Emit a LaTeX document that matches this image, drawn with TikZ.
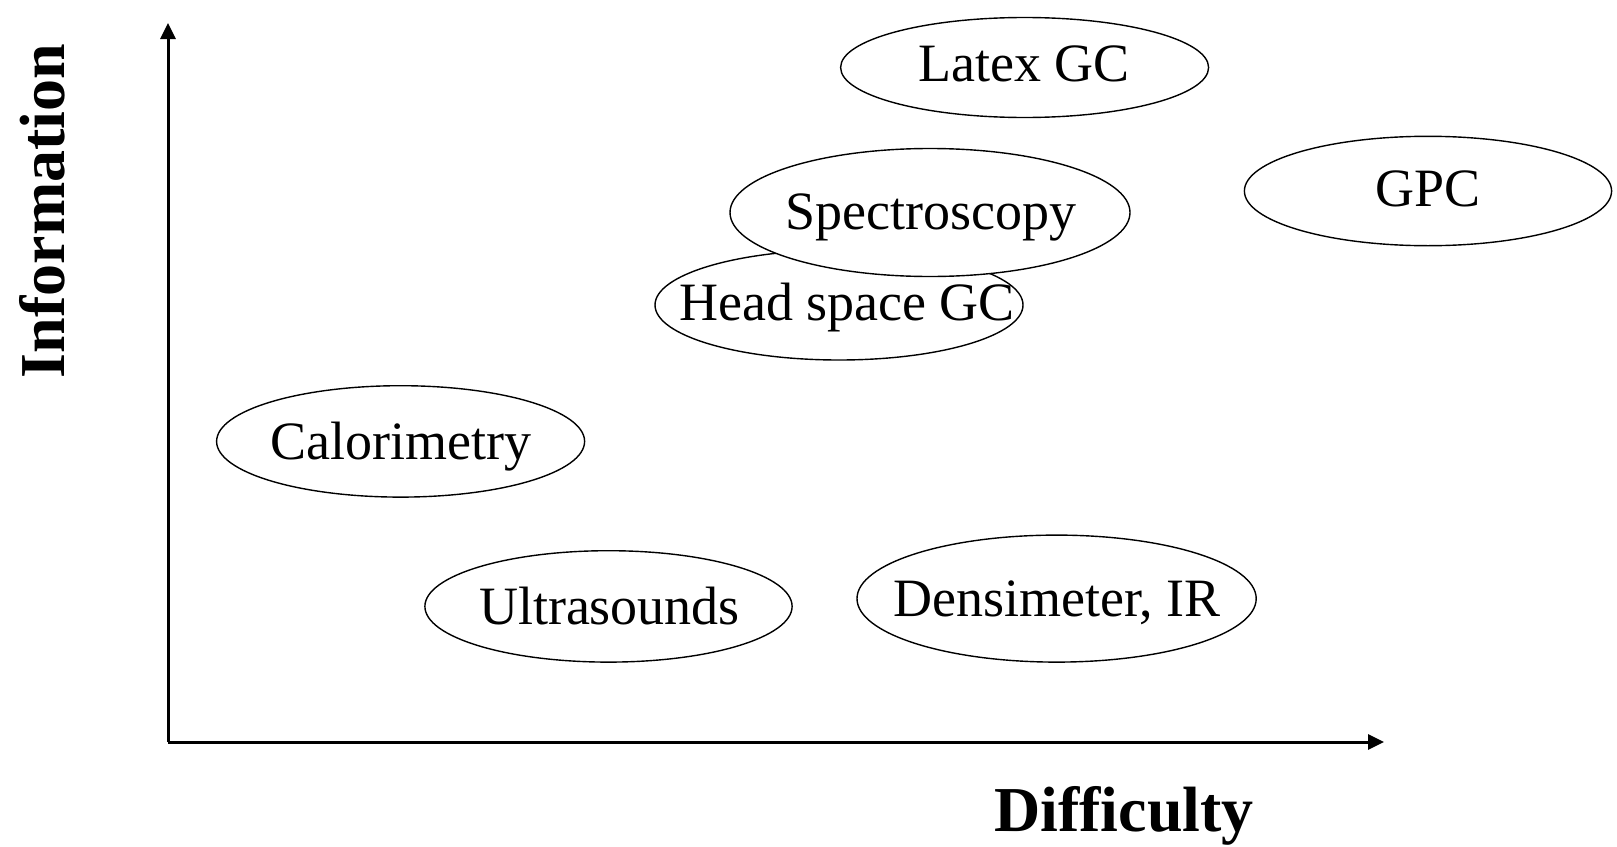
\documentclass[tikz,border=0pt]{standalone}
\usepackage{fontspec}
\setmainfont{Liberation Serif}
\usetikzlibrary{shapes.geometric,arrows.meta}
\begin{document}
\begin{tikzpicture}[x=0.5pt,y=-0.5pt,
  oval/.style={ellipse,draw,line width=0.7pt,fill=white,inner sep=0pt},
  lab/.style={font=\fontsize{27}{30}\selectfont,inner sep=0pt,anchor=base},
  axislab/.style={font=\fontsize{32}{36}\selectfont\bfseries,inner sep=0pt,anchor=base},
  axis/.style={line width=1.5pt,-{Triangle[length=8pt,width=7.5pt]}}]
\useasboundingbox (0,0) rectangle (1617,846);
\coordinate (O) at (168,742);
\coordinate (ytip) at (168,23);
\coordinate (xtip) at (1384,742);
\draw[axis] (O) -- (ytip);
\draw[axis] (O) -- (xtip);
\node[axislab,rotate=90] (info) at (64,211) {Information};
\node[axislab] (diff) at (1124,831) {Difficulty};
% ellipses
\node[oval,minimum width=184pt,minimum height=50pt] (latex) at (1024.6,67.5) {};
\node[lab] (latext) at (1024,81.5) {Latex GC};
\node[oval,minimum width=183.6pt,minimum height=54.7pt] (gpc) at (1428,191) {};
\node[lab] (gpct) at (1428,206) {GPC};
\node[oval,minimum width=184pt,minimum height=55pt] (hs) at (839,305) {};
\node[oval,minimum width=200pt,minimum height=64pt] (spec) at (930,212.5) {};
\node[lab] (spect) at (931,229) {Spectroscopy};
\node[lab] (hst) at (847,320) {Head space GC};
\node[oval,minimum width=184pt,minimum height=55.7pt] (cal) at (400.6,441.4) {};
\node[lab] (calt) at (401,459) {Calorimetry};
\node[oval,minimum width=183.6pt,minimum height=55.7pt] (ult) at (608.5,606.4) {};
\node[lab] (ultt) at (609.5,624) {Ultrasounds};
\node[oval,minimum width=199.6pt,minimum height=63.5pt] (den) at (1056.6,598.6) {};
\node[lab] (dent) at (1057,616) {Densimeter, IR};
\end{tikzpicture}
\end{document}
